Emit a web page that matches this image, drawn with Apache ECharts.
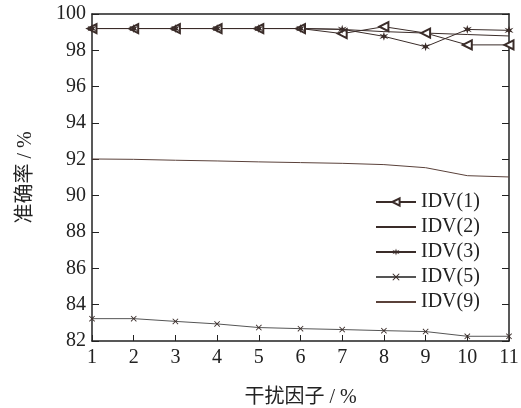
<!DOCTYPE html>
<html>
<head>
<meta charset="utf-8">
<script src="https://cdn.jsdelivr.net/npm/echarts@6/dist/echarts.min.js"></script>
<style>
  html, body { margin: 0; padding: 0; background: #fff; }
  #chart { width: 521px; height: 408px; }
</style>
</head>
<body>
<div id="chart"></div>
<script>
// disturbance factor (%)
const xs = [1, 2, 3, 4, 5, 6, 7, 8, 9, 10, 11];
const idv1 = [99.2, 99.2, 99.2, 99.2, 99.2, 99.2, 98.92, 99.3, 98.95, 98.3, 98.3];
const idv2 = [99.2, 99.2, 99.2, 99.2, 99.2, 99.2, 99.15, 99.03, 98.95, 98.87, 98.79];
const idv3 = [99.2, 99.2, 99.2, 99.2, 99.2, 99.2, 99.16, 98.77, 98.2, 99.15, 99.1];
const idv5 = [83.23, 83.23, 83.08, 82.94, 82.74, 82.68, 82.63, 82.57, 82.52, 82.26, 82.26];
const idv9 = [92.02, 92.0, 91.95, 91.91, 91.86, 91.82, 91.78, 91.71, 91.54, 91.1, 91.03];
const names = ['IDV(1)', 'IDV(2)', 'IDV(3)', 'IDV(5)', 'IDV(9)'];

const ink = '#3a2c29';
const serif = '"Liberation Serif", "Noto Sans CJK SC", serif';
const starPath = 'path://M0,-10L2,-3L9,-6L4,0L9,6L2,3L0,10L-2,3L-9,6L-4,0L-9,-6L-2,-3Z';
const crossPath = 'path://M-5,-4L-4,-5L0,-1L4,-5L5,-4L1,0L5,4L4,5L0,1L-4,5L-5,4L-1,0Z';

const pairs = (arr) => xs.map((x, i) => [x, arr[i]]);

let chart = echarts.init(document.getElementById('chart'));

let base = {
  type: 'line',
  lineStyle: {color: ink, width: 1},
  itemStyle: {color: ink},
  animation: false
};

chart.setOption({
  grid: {left: 92, right: 12, top: 14, bottom: 67, outerBoundsMode: 'none', containLabel: false},
  legend: {
    orient: 'vertical',
    left: 370,
    top: 187,
    itemWidth: 40,
    itemHeight: 9,
    itemGap: 5,
    data: [
      {name: names[0]},
      {name: names[1], itemStyle: {opacity: 0}},
      {name: names[2]},
      {name: names[3]},
      {name: names[4], itemStyle: {opacity: 0}}
    ],
    textStyle: {fontFamily: serif, fontSize: 20, color: '#222', lineHeight: 20}
  },
  xAxis: [
    {
      type: 'value', min: 1, max: 11, interval: 1,
      name: '干扰因子 / %', nameLocation: 'middle', nameGap: 47,
      nameTextStyle: {fontFamily: serif, fontSize: 20, color: '#222'},
      axisLine: {lineStyle: {color: '#222', width: 1.5}},
      axisTick: {inside: true, length: 6, lineStyle: {color: '#222'}},
      axisLabel: {fontFamily: serif, fontSize: 20, color: '#222', margin: 7},
      splitLine: {show: false}
    },
    {
      type: 'value', min: 1, max: 11, position: 'top',
      axisLine: {show: true, onZero: false, lineStyle: {color: '#222', width: 1.5}},
      axisTick: {show: false}, axisLabel: {show: false}, splitLine: {show: false}
    }
  ],
  yAxis: [
    {
      type: 'value', min: 82, max: 100, interval: 2,
      name: '准确率 / %', nameLocation: 'middle', nameGap: 56, nameRotate: 90,
      nameTextStyle: {fontFamily: serif, fontSize: 20, color: '#222'},
      axisLine: {show: true, lineStyle: {color: '#222', width: 1.5}},
      axisTick: {inside: true, length: 7, lineStyle: {color: '#222'}},
      axisLabel: {fontFamily: serif, fontSize: 20, color: '#222', margin: 6},
      splitLine: {show: false}
    },
    {
      type: 'value', min: 82, max: 100, interval: 2, position: 'right',
      axisLine: {show: true, onZero: false, lineStyle: {color: '#222', width: 1.5}},
      axisTick: {inside: true, length: 7, lineStyle: {color: '#222'}},
      axisLabel: {show: false}, splitLine: {show: false}
    }
  ],
  series: [
    Object.assign({}, base, {
      name: names[0], data: pairs(idv1),
      symbol: 'emptyTriangle', symbolSize: 9, symbolRotate: 90
    }),
    Object.assign({}, base, {
      name: names[1], data: pairs(idv2), symbol: 'none'
    }),
    Object.assign({}, base, {
      name: names[2], data: pairs(idv3),
      symbol: starPath, symbolSize: 9
    }),
    Object.assign({}, base, {
      name: names[3], data: pairs(idv5),
      symbol: crossPath, symbolSize: 6,
      lineStyle: {color: '#555', width: 1}
    }),
    Object.assign({}, base, {
      name: names[4], data: pairs(idv9), symbol: 'none',
      lineStyle: {color: '#5a413a', width: 1}
    })
  ]
});
</script>
</body>
</html>
